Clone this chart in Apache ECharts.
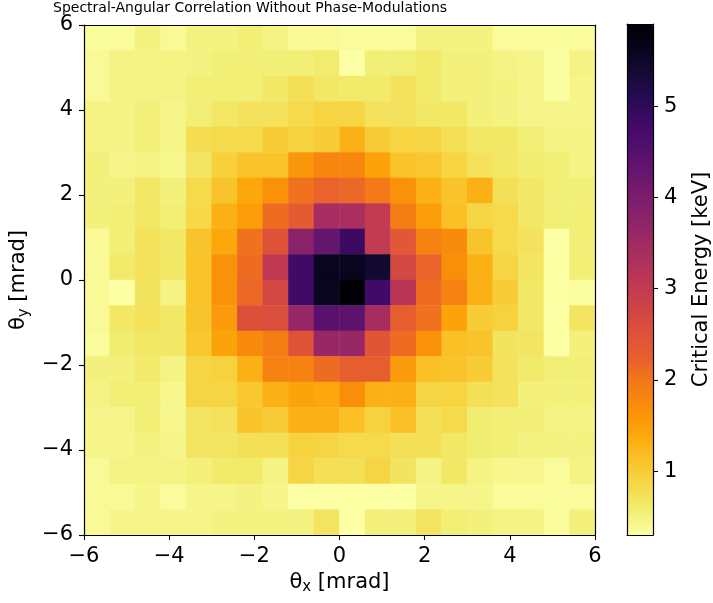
<!DOCTYPE html>
<html>
<head>
<meta charset="utf-8">
<script src="https://cdn.jsdelivr.net/npm/echarts@6/dist/echarts.min.js"></script>
<style>html,body{margin:0;padding:0;background:#fff;}#main{width:713px;height:603px;}</style>
</head>
<body>
<div id="main"></div>
<script>
// cell centres (mrad)
const thetaX = [-5.7,-5.1,-4.5,-3.9,-3.3,-2.7,-2.1,-1.5,-0.9,-0.3,0.3,0.9,1.5,2.1,2.7,3.3,3.9,4.5,5.1,5.7];
const thetaY = [-5.7,-5.1,-4.5,-3.9,-3.3,-2.7,-2.1,-1.5,-0.9,-0.3,0.3,0.9,1.5,2.1,2.7,3.3,3.9,4.5,5.1,5.7];
// critical energy [keV], rows listed from top (θy = 5.7) to bottom (θy = -5.7)
const energyRows = [
  [0.35,0.35,0.50,0.38,0.50,0.50,0.55,0.48,0.38,0.38,0.35,0.35,0.35,0.50,0.50,0.50,0.35,0.35,0.35,0.35],
  [0.38,0.48,0.48,0.48,0.50,0.55,0.55,0.55,0.55,0.60,0.30,0.55,0.55,0.62,0.52,0.52,0.48,0.45,0.33,0.48],
  [0.38,0.48,0.48,0.48,0.55,0.55,0.55,0.65,0.75,0.65,0.62,0.62,0.72,0.62,0.52,0.52,0.50,0.45,0.32,0.45],
  [0.48,0.48,0.52,0.45,0.55,0.65,0.72,0.72,0.82,0.90,0.88,0.72,0.72,0.65,0.65,0.52,0.50,0.45,0.45,0.45],
  [0.48,0.48,0.52,0.45,0.78,0.82,0.82,1.00,0.92,1.00,1.30,1.00,0.90,0.88,0.75,0.65,0.65,0.55,0.48,0.48],
  [0.52,0.45,0.48,0.42,0.68,0.95,1.10,1.10,1.60,1.80,1.80,1.45,1.10,1.05,0.90,0.72,0.65,0.58,0.55,0.48],
  [0.52,0.52,0.65,0.52,0.82,1.10,1.40,1.65,2.05,2.20,2.15,1.95,1.65,1.30,1.10,1.30,0.75,0.65,0.55,0.55],
  [0.52,0.55,0.65,0.55,0.85,1.30,1.50,2.10,2.30,3.40,3.35,3.00,1.90,1.50,1.15,0.88,0.82,0.65,0.55,0.55],
  [0.38,0.55,0.72,0.65,1.10,1.40,2.05,2.50,3.80,4.30,4.85,3.00,2.40,1.85,1.75,1.10,0.82,0.72,0.30,0.55],
  [0.38,0.62,0.72,0.65,1.10,1.65,2.10,3.05,4.80,5.60,5.60,5.45,2.70,2.20,1.70,1.30,0.88,0.68,0.30,0.55],
  [0.38,0.30,0.70,0.48,1.10,1.65,2.15,2.70,4.80,5.60,5.90,4.80,3.15,2.10,1.85,1.30,1.00,0.65,0.30,0.32],
  [0.38,0.65,0.72,0.65,1.10,1.55,2.55,2.60,3.60,4.45,4.40,3.40,2.25,2.05,1.45,1.00,0.92,0.65,0.30,0.68],
  [0.35,0.58,0.65,0.65,1.05,1.45,1.75,1.90,2.50,3.60,3.60,2.45,2.10,1.65,1.15,1.10,0.70,0.68,0.30,0.52],
  [0.52,0.52,0.62,0.48,0.88,0.92,1.30,1.85,1.85,2.10,2.25,2.25,1.55,1.15,1.10,1.00,0.72,0.62,0.55,0.55],
  [0.48,0.55,0.55,0.42,0.88,0.90,1.05,1.30,1.45,1.40,1.70,1.30,1.30,0.88,0.90,0.75,0.72,0.52,0.52,0.52],
  [0.45,0.45,0.55,0.42,0.68,0.72,1.10,1.00,1.30,1.30,1.15,0.92,1.15,0.75,0.82,0.58,0.55,0.55,0.48,0.48],
  [0.45,0.45,0.50,0.45,0.68,0.68,0.75,0.75,0.92,0.88,0.82,0.82,0.75,0.75,0.65,0.58,0.55,0.50,0.50,0.50],
  [0.38,0.48,0.48,0.48,0.52,0.62,0.62,0.48,0.88,0.75,0.75,0.88,0.70,0.48,0.65,0.48,0.42,0.42,0.35,0.48],
  [0.38,0.38,0.45,0.35,0.45,0.45,0.50,0.45,0.30,0.30,0.30,0.30,0.30,0.45,0.45,0.45,0.35,0.35,0.35,0.35],
  [0.38,0.45,0.45,0.45,0.45,0.50,0.50,0.50,0.50,0.68,0.30,0.52,0.52,0.68,0.55,0.52,0.48,0.48,0.35,0.52]
];
const axisTicks = [-6,-4,-2,0,2,4,6];
const colorbarTicks = [1,2,3,4,5];
const colorMin = 0.3, colorMax = 5.9;
// inferno, reversed (low -> high)
const infernoR = ['#fcffa4','#f1ed71','#f6d746','#fac127','#fca50a','#f98e09','#f37819','#e65d2f','#dd513a','#cc4248','#bc3754','#a82e5f','#932667','#7f1e6c','#6a176e','#56106e','#420a68','#280b54','#160b39','#08051d','#000004'];

const heatData = [];
energyRows.forEach((row, r) => {
  row.forEach((v, c) => heatData.push([c, thetaY.length - 1 - r, v]));
});

const FONT = 'DejaVu Sans';
const minus = v => String(v).replace('-', '\u2212');
const lineStyle = {color:'#000', width:1.2};
const frameAxis = (pos, grid) => ({
  type:'value', gridIndex:grid, position:pos, min:axisTicks[0], max:axisTicks[axisTicks.length-1], interval:2, z:10,
  axisLine:{show:true, onZero:false, lineStyle}, axisTick:{show:false}, axisLabel:{show:false}, splitLine:{show:false}
});

const chart = echarts.init(document.getElementById('main'), null, {renderer:'canvas'});
chart.setOption({
  backgroundColor:'#fff',
  animation:false,
  title:{text:'Spectral-Angular Correlation Without Phase-Modulations', left:53, top:1, padding:0,
    textStyle:{fontFamily:FONT, fontSize:14, fontWeight:'normal', color:'#000'}},
  grid:[
    {left:84, top:25, width:511, height:510},
    {left:627, top:24, width:26, height:511}
  ],
  xAxis:[
    {type:'category', gridIndex:0, data:thetaX, show:false},
    {type:'value', gridIndex:0, position:'bottom', min:axisTicks[0], max:axisTicks[axisTicks.length-1], interval:2, z:10,
      axisLine:{show:true, onZero:false, lineStyle},
      axisTick:{show:true, length:5, lineStyle:{color:'#000', width:1.1}},
      axisLabel:{color:'#000', fontFamily:FONT, fontSize:21, margin:11, formatter:minus},
      splitLine:{show:false},
      name:'{a|θ}{b|x}{a| [mrad]}', nameLocation:'middle', nameGap:30,
      nameTextStyle:{rich:{a:{fontFamily:FONT, fontSize:21, color:'#000'}, b:{fontFamily:FONT, fontSize:15, color:'#000', padding:[10,0,0,0]}}}
    },
    frameAxis('top', 0),
    {type:'value', gridIndex:1, position:'bottom', min:0, max:1, z:10,
      axisLine:{show:true, onZero:false, lineStyle}, axisTick:{show:false}, axisLabel:{show:false}, splitLine:{show:false}},
    {type:'value', gridIndex:1, position:'top', min:0, max:1, z:10,
      axisLine:{show:true, onZero:false, lineStyle}, axisTick:{show:false}, axisLabel:{show:false}, splitLine:{show:false}}
  ],
  yAxis:[
    {type:'category', gridIndex:0, data:thetaY, show:false},
    {type:'value', gridIndex:0, position:'left', min:axisTicks[0], max:axisTicks[axisTicks.length-1], interval:2, z:10,
      axisLine:{show:true, onZero:false, lineStyle},
      axisTick:{show:true, length:5, lineStyle:{color:'#000', width:1.1}},
      axisLabel:{color:'#000', fontFamily:FONT, fontSize:21, margin:11, formatter:minus},
      splitLine:{show:false},
      name:'{a|θ}{b|y}{a| [mrad]}', nameLocation:'middle', nameGap:46, nameRotate:90,
      nameTextStyle:{rich:{a:{fontFamily:FONT, fontSize:21, color:'#000'}, b:{fontFamily:FONT, fontSize:15, color:'#000', padding:[10,0,0,0]}}}
    },
    frameAxis('right', 0),
    {type:'value', gridIndex:1, position:'right', min:colorMin, max:colorMax, z:10,
      axisLine:{show:true, onZero:false, lineStyle},
      axisTick:{show:true, length:5, customValues:colorbarTicks, lineStyle:{color:'#000', width:1.1}},
      axisLabel:{color:'#000', fontFamily:FONT, fontSize:21, margin:11, customValues:colorbarTicks},
      splitLine:{show:false},
      name:'Critical Energy [keV]', nameLocation:'middle', nameGap:38, nameRotate:90,
      nameTextStyle:{fontFamily:FONT, fontSize:21, color:'#000'}
    },
    {type:'value', gridIndex:1, position:'left', min:colorMin, max:colorMax, z:10,
      axisLine:{show:true, onZero:false, lineStyle}, axisTick:{show:false}, axisLabel:{show:false}, splitLine:{show:false}}
  ],
  visualMap:{
    type:'continuous', min:colorMin, max:colorMax, seriesIndex:0, calculable:false, hoverLink:false,
    left:627, top:24, itemWidth:26, itemHeight:511, padding:0, text:null, showLabel:false,
    inRange:{color:infernoR}
  },
  series:[{
    type:'heatmap', xAxisIndex:0, yAxisIndex:0, data:heatData,
    itemStyle:{borderWidth:0}, emphasis:{disabled:true}, progressive:0
  }]
});
</script>
</body>
</html>
